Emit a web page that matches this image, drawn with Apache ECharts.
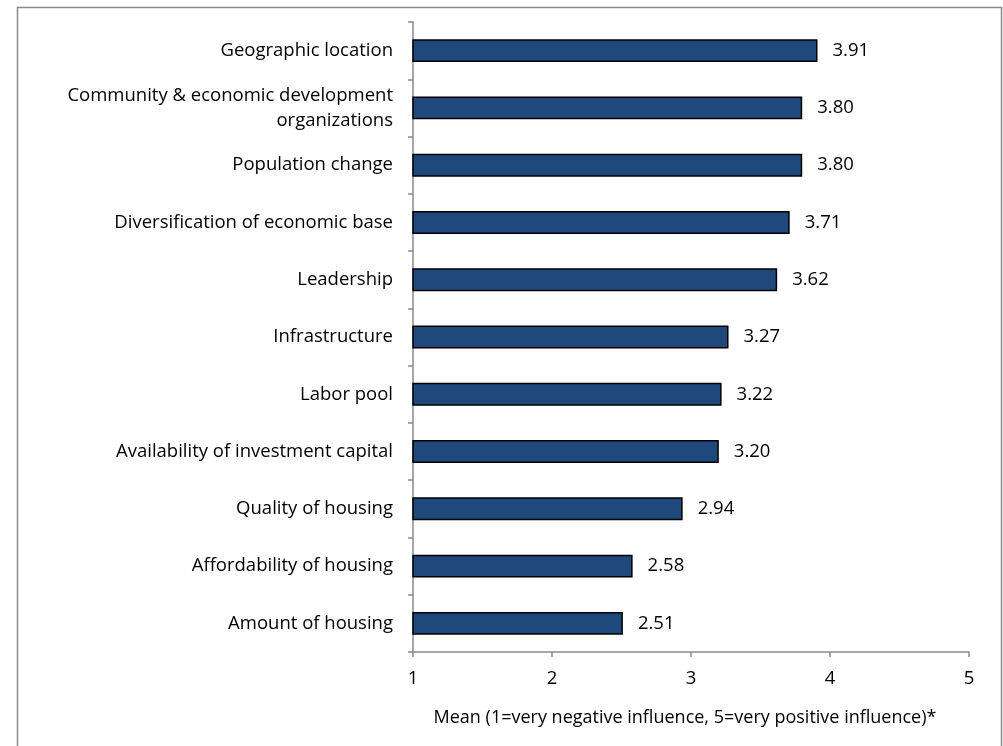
<!DOCTYPE html>
<html>
<head>
<meta charset="utf-8">
<script src="https://cdn.jsdelivr.net/npm/echarts@6/dist/echarts.min.js"></script>
<style>
html,body{margin:0;padding:0;background:#fff;}
#chart{width:1003px;height:746px;}
</style>
</head>
<body>
<div id="chart"></div>
<script>
const categories = [
  "Geographic location",
  "Community & economic development\norganizations",
  "Population change",
  "Diversification of economic base",
  "Leadership",
  "Infrastructure",
  "Labor pool",
  "Availability of investment capital",
  "Quality of housing",
  "Affordability of housing",
  "Amount of housing"
];
const meanValues = [3.91, 3.80, 3.80, 3.71, 3.62, 3.27, 3.22, 3.20, 2.94, 2.58, 2.51];
const xTicks = [1, 2, 3, 4, 5];
const axisTitle = "Mean (1=very negative influence, 5=very positive influence)*";

const FONT = "Open Sans";
const FS = 18.5;
const chart = echarts.init(document.getElementById('chart'), null, {renderer: 'canvas'});
chart.setOption({
  animation: false,
  backgroundColor: '#ffffff',
  graphic: [{
    type: 'rect',
    left: 15, top: 5,
    shape: {width: 984, height: 800},
    style: {fill: 'none', stroke: '#8a8a8a', lineWidth: 1.5},
    silent: true
  }],
  grid: {left: 413, right: 34, top: 22, bottom: 94, containLabel: false},
  xAxis: {
    type: 'value',
    min: xTicks[0],
    max: xTicks[xTicks.length - 1],
    interval: 1,
    name: axisTitle,
    nameLocation: 'middle',
    nameGap: 57,
    nameTextStyle: {fontFamily: FONT, fontSize: 18, color: '#000', padding: [0, 12, 0, 0]},
    axisLine: {show: true, lineStyle: {color: '#8a8a8a', width: 1.5}},
    axisTick: {show: true, length: 5, lineStyle: {color: '#8a8a8a', width: 1.5}},
    axisLabel: {fontFamily: FONT, fontSize: FS, color: '#000', margin: 17},
    splitLine: {show: false}
  },
  yAxis: {
    type: 'category',
    data: categories,
    inverse: true,
    axisLine: {show: true, lineStyle: {color: '#8a8a8a', width: 1.5}},
    axisTick: {show: true, length: 5, lineStyle: {color: '#8a8a8a', width: 1.5}},
    axisLabel: {fontFamily: FONT, fontSize: FS, color: '#000', margin: 20, align: 'right', lineHeight: 25}
  },
  series: [{
    type: 'bar',
    data: meanValues,
    barWidth: '40%',
    itemStyle: {color: '#1F497D', borderColor: '#000', borderWidth: 1.5},
    label: {
      show: true,
      position: 'right',
      distance: 15,
      fontFamily: FONT,
      fontSize: FS,
      color: '#000',
      formatter: p => p.value.toFixed(2)
    }
  }]
});
</script>
</body>
</html>
